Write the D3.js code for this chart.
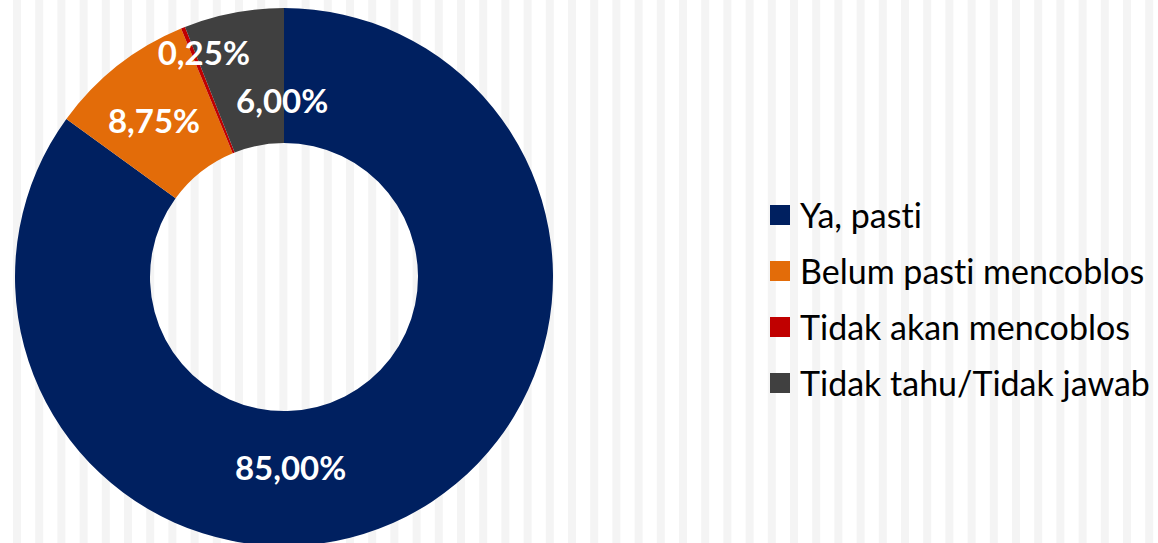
<!DOCTYPE html>
<html>
<head>
<meta charset="utf-8">
<script src="https://cdn.jsdelivr.net/npm/d3@7"></script>
<style>
  html, body { margin: 0; padding: 0; background: #ffffff; }
  svg { display: block; }
  text { font-variant-ligatures: none; font-feature-settings: "liga" 0, "clig" 0; }
</style>
</head>
<body>
<svg id="chart" width="1158" height="543"></svg>
<script>
// Survey answers: will the respondent vote?
const categories = ["Ya, pasti", "Belum pasti mencoblos", "Tidak akan mencoblos", "Tidak tahu/Tidak jawab"];
const values = [85.00, 8.75, 0.25, 6.00];
const valueLabels = ["85,00%", "8,75%", "0,25%", "6,00%"];
const colors = ["#002060", "#E36C09", "#C00000", "#404040"];

// Label placement in polar form around the donut centre (degrees clockwise from 12 o'clock, radius in px)
const labelAngles = [178, -39.6, -19.6, -0.6];
const labelRadii = [190, 204, 239, 177];

const W = 1158, H = 543;
const svg = d3.select("#chart");

// Striped background
const stripeG = svg.append("g");
stripeG.selectAll("rect")
  .data(d3.range(13, W, 22.2))
  .join("rect")
  .attr("x", d => d)
  .attr("y", 0)
  .attr("width", 8)
  .attr("height", H)
  .attr("fill", "#f4f4f4");

const cx = 284, cy = 277, outerR = 269, innerR = 134;

const pie = d3.pie().sort(null).value(d => d.value);
const arc = d3.arc().innerRadius(innerR).outerRadius(outerR);
const data = categories.map((c, i) => ({ name: c, value: values[i], color: colors[i], label: valueLabels[i], i }));

const g = svg.append("g").attr("transform", `translate(${cx},${cy})`);
g.selectAll("path")
  .data(pie(data))
  .join("path")
  .attr("d", arc)
  .attr("fill", d => d.data.color);

g.selectAll("text")
  .data(data)
  .join("text")
  .attr("x", d => labelRadii[d.i] * Math.sin(labelAngles[d.i] * Math.PI / 180))
  .attr("y", d => -labelRadii[d.i] * Math.cos(labelAngles[d.i] * Math.PI / 180))
  .attr("text-anchor", "middle")
  .attr("dominant-baseline", "central")
  .attr("fill", "#ffffff")
  .attr("font-family", "Lato, 'Open Sans', sans-serif")
  .attr("font-weight", "bold")
  .attr("font-size", 33)
  .text(d => d.label);

// Legend
const legend = svg.append("g").attr("transform", "translate(770,215)");
const rows = legend.selectAll("g")
  .data(data)
  .join("g")
  .attr("transform", (d, i) => `translate(0,${i * 56})`);
rows.append("rect")
  .attr("x", 0).attr("y", -10)
  .attr("width", 20).attr("height", 20)
  .attr("fill", d => d.color);
rows.append("text")
  .attr("x", 30)
  .attr("y", -1)
  .attr("dominant-baseline", "central")
  .attr("fill", "#000000")
  .attr("font-family", "Lato, 'Open Sans', sans-serif")
  .attr("font-size", 34)
  .text(d => d.name);
</script>
</body>
</html>
